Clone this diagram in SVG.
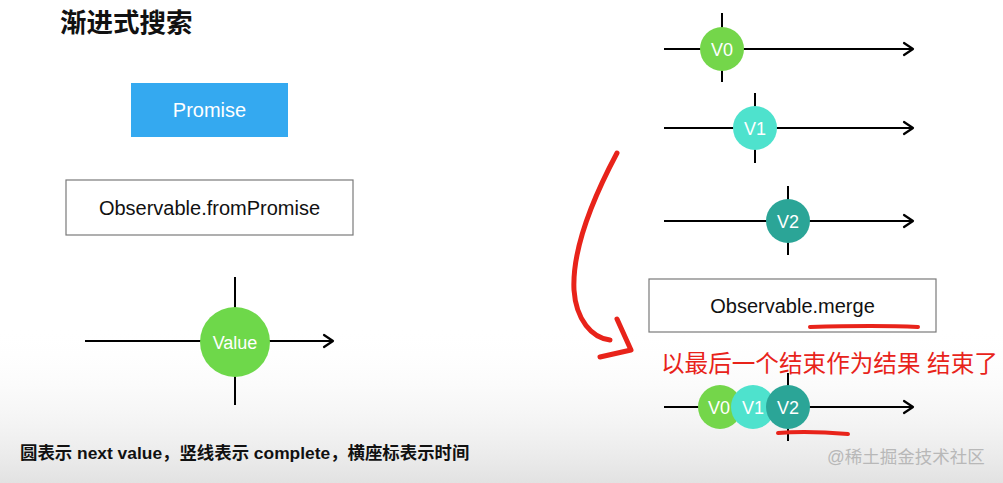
<svg xmlns="http://www.w3.org/2000/svg" width="1003" height="483" viewBox="0 0 1003 483">
<defs>
<linearGradient id="fade" x1="0" y1="0" x2="0" y2="1">
<stop offset="0" stop-color="#ffffff" stop-opacity="0"/>
<stop offset="1" stop-color="#e2e2e2" stop-opacity="1"/>
</linearGradient>
<marker id="chev" markerUnits="userSpaceOnUse" markerWidth="14" markerHeight="16" refX="11" refY="7" orient="auto" overflow="visible">
<path d="M2,1 L11,7 L2,13" fill="none" stroke="#000" stroke-width="2.2" stroke-linecap="round" stroke-linejoin="round"/>
</marker>
<style>
text{font-family:"Liberation Sans","Noto Sans CJK SC",sans-serif}
.axis{stroke:#000;stroke-width:2;fill:none}
.tick{stroke:#000;stroke-width:2}
.ct{fill:#fff;font-size:18px;text-anchor:middle}
.box{fill:#fff;stroke:#7a7a7a;stroke-width:1.2}
.bt{fill:#111;font-size:20px;text-anchor:middle}
.red{stroke:#e8231a;fill:none;stroke-linecap:round;stroke-linejoin:round}
</style>
</defs>
<rect width="1003" height="483" fill="#fff"/>
<rect x="0" y="325" width="1003" height="158" fill="url(#fade)"/>

<text x="60" y="32" font-size="26.5" font-weight="bold" fill="#111">渐进式搜索</text>

<g id="promise">
<rect x="131" y="83" width="157" height="54" fill="#34a9f0"/>
<text x="209.5" y="117" font-size="20" fill="#fff" text-anchor="middle">Promise</text>
</g>

<g id="fromPromise">
<rect class="box" x="66" y="180" width="287" height="55"/>
<text class="bt" x="209.5" y="215">Observable.fromPromise</text>
</g>

<g id="merge">
<rect class="box" x="649" y="279" width="287" height="53"/>
<text class="bt" x="792.5" y="313">Observable.merge</text>
</g>

<g id="connectors">
<line class="axis" x1="85" y1="341" x2="333" y2="341" marker-end="url(#chev)"/>
<line class="axis" x1="664" y1="49" x2="913" y2="49" marker-end="url(#chev)"/>
<line class="axis" x1="664" y1="128" x2="913" y2="128" marker-end="url(#chev)"/>
<line class="axis" x1="664" y1="221" x2="913" y2="221" marker-end="url(#chev)"/>
<line class="axis" x1="664" y1="407" x2="913" y2="407" marker-end="url(#chev)"/>
</g>

<g id="value">
<line class="tick" x1="235" y1="277" x2="235" y2="405"/>
<circle cx="235" cy="342" r="35" fill="#6ed84a"/>
<text class="ct" x="235" y="349" font-size="21">Value</text>
</g>

<g id="v0">
<line class="tick" x1="722" y1="13" x2="722" y2="82"/>
<circle cx="722" cy="49" r="22" fill="#74d64a"/>
<text class="ct" x="722" y="55.5">V0</text>
</g>
<g id="v1">
<line class="tick" x1="755" y1="93" x2="755" y2="163"/>
<circle cx="755" cy="128" r="22" fill="#4ee2cd"/>
<text class="ct" x="755" y="134.5">V1</text>
</g>
<g id="v2">
<line class="tick" x1="788" y1="186" x2="788" y2="255"/>
<circle cx="788" cy="221" r="22" fill="#2ba597"/>
<text class="ct" x="788" y="227.5">V2</text>
</g>

<g id="merged">
<line class="tick" x1="788" y1="373" x2="788" y2="441"/>
<circle cx="720" cy="407" r="22" fill="#74d64a"/>
<circle cx="753" cy="407" r="22" fill="#4ee2cd"/>
<circle cx="788" cy="407" r="22" fill="#2ba597"/>
<text class="ct" x="719" y="413.5">V0</text>
<text class="ct" x="753" y="413.5">V1</text>
<text class="ct" x="788" y="413.5">V2</text>
</g>

<g id="annotations">
<path class="red" stroke-width="5" d="M617,153 C592,200 572,250 574,290 C576,320 592,338 610,340"/>
<path class="red" stroke-width="5" d="M617,319 L631,350 L600,357"/>
<path class="red" stroke-width="4" d="M810,327 C840,326 880,325 918,327"/>
<path class="red" stroke-width="4" d="M778,433 C800,431 825,432 848,434"/>
<text x="661" y="372" font-size="23.6" fill="#e8231a">以最后一个结束作为结果 结束了</text>
</g>

<text x="20" y="459" font-size="17.4" font-weight="bold" fill="#111">圆表示 next value，竖线表示 complete，横座标表示时间</text>
<text x="827" y="463" font-size="17.5" fill="#b8b8b8">@稀土掘金技术社区</text>
</svg>
